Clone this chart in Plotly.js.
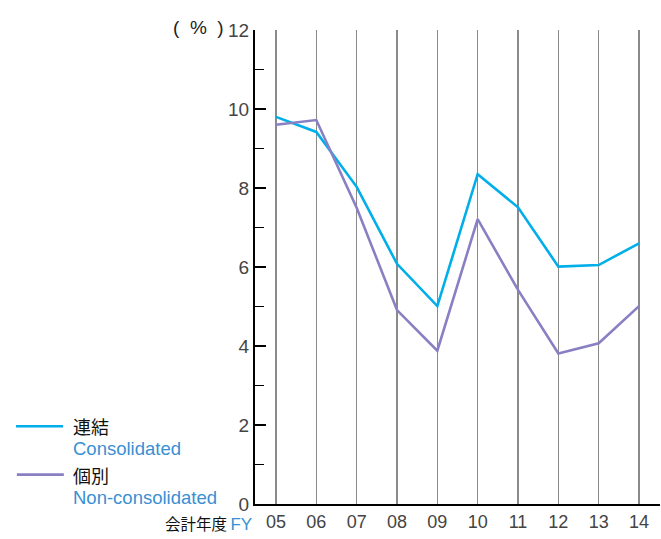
<!DOCTYPE html>
<html>
<head>
<meta charset="utf-8">
<script src="https://cdn.plot.ly/plotly-3.0.1.min.js"></script>
<style>html,body{margin:0;padding:0;background:#fff;}#chart{width:661px;height:539px;}</style>
</head>
<body>
<div id="chart"></div>
<script>
const years = ['05','06','07','08','09','10','11','12','13','14'];
const consolidated = [9.80, 9.42, 8.03, 6.08, 5.01, 8.35, 7.51, 6.01, 6.05, 6.60];
const nonConsolidated = [9.60, 9.72, 7.50, 4.91, 3.88, 7.21, 5.42, 3.81, 4.07, 5.01];
const yTicks = [0, 2, 4, 6, 8, 10, 12];

const cyan = '#00aeea';
const purple = '#8880c2';
const blueText = '#3a8fd2';
const font = 'Liberation Sans, Arial, sans-serif';
const cjk = 'Noto Sans CJK JP, sans-serif';

const traces = [
  {x: years, y: consolidated, type: 'scatter', mode: 'lines', name: '連結',
   line: {color: cyan, width: 2.6}, showlegend: false},
  {x: years, y: nonConsolidated, type: 'scatter', mode: 'lines', name: '個別',
   line: {color: purple, width: 2.6}, showlegend: false}
];

function legendText(jp, en) {
  return '<span style="font-family:Noto Sans CJK JP; font-size:18px; color:#111">' + jp + '</span><br>' +
         '<span style="font-family:Liberation Sans; font-size:18.5px; color:' + blueText + '">' + en + '</span>';
}

const layout = {
  width: 661, height: 539,
  margin: {l: 255, r: 1, t: 30, b: 35},
  paper_bgcolor: '#fff', plot_bgcolor: '#fff',
  xaxis: {
    type: 'category', range: [-0.52, 9.52],
    showgrid: true, gridcolor: '#8a8a8a', gridwidth: 1.5,
    showline: true, linecolor: '#000', linewidth: 2,
    ticks: '', ticklabelstandoff: 0,
    tickfont: {family: font, size: 18, color: '#444'},
    zeroline: false, fixedrange: true
  },
  yaxis: {
    range: [0, 12], tickvals: yTicks, ticktext: yTicks.map(String),
    showgrid: false, zeroline: false,
    showline: true, linecolor: '#000', linewidth: 2,
    ticks: 'inside', ticklen: 11, tickwidth: 1.5, tickcolor: '#000',
    minor: {dtick: 1, tick0: 0, ticks: 'inside', ticklen: 9, tickwidth: 1.5, tickcolor: '#000', showgrid: false},
    tickfont: {family: font, size: 19, color: '#444'},
    fixedrange: true
  },
  shapes: [
    {type: 'line', xref: 'paper', yref: 'paper', x0: -0.59, x1: -0.474, y0: 0.164, y1: 0.164,
     line: {color: cyan, width: 2.6}},
    {type: 'line', xref: 'paper', yref: 'paper', x0: -0.588, x1: -0.472, y0: 0.062, y1: 0.062,
     line: {color: purple, width: 2.6}}
  ],
  annotations: [
    {text: '(&nbsp;&nbsp;%&nbsp;&nbsp;)', xref: 'paper', yref: 'paper', x: -0.072, y: 1.006, xanchor: 'right', yanchor: 'middle',
     showarrow: false, font: {family: font, size: 19, color: '#222'}},
    {text: '会計年度 <span style="color:' + blueText + '; font-family:Liberation Sans; font-size:17px">FY</span>',
     xref: 'paper', yref: 'paper', x: -0.003, y: -0.04, xanchor: 'right', yanchor: 'middle',
     showarrow: false, font: {family: cjk, size: 15.5, color: '#111'}},
    {text: legendText('連結', 'Consolidated'), xref: 'paper', yref: 'paper', x: -0.455, y: 0.1435,
     xanchor: 'left', yanchor: 'middle', align: 'left',
     showarrow: false, font: {family: font, size: 16.5, color: '#111'}},
    {text: legendText('個別', 'Non-consolidated'), xref: 'paper', yref: 'paper', x: -0.455, y: 0.040,
     xanchor: 'left', yanchor: 'middle', align: 'left',
     showarrow: false, font: {family: font, size: 16, color: '#111'}}
  ],
  showlegend: false
};

Plotly.newPlot('chart', traces, layout, {displayModeBar: false, staticPlot: true});
</script>
</body>
</html>
